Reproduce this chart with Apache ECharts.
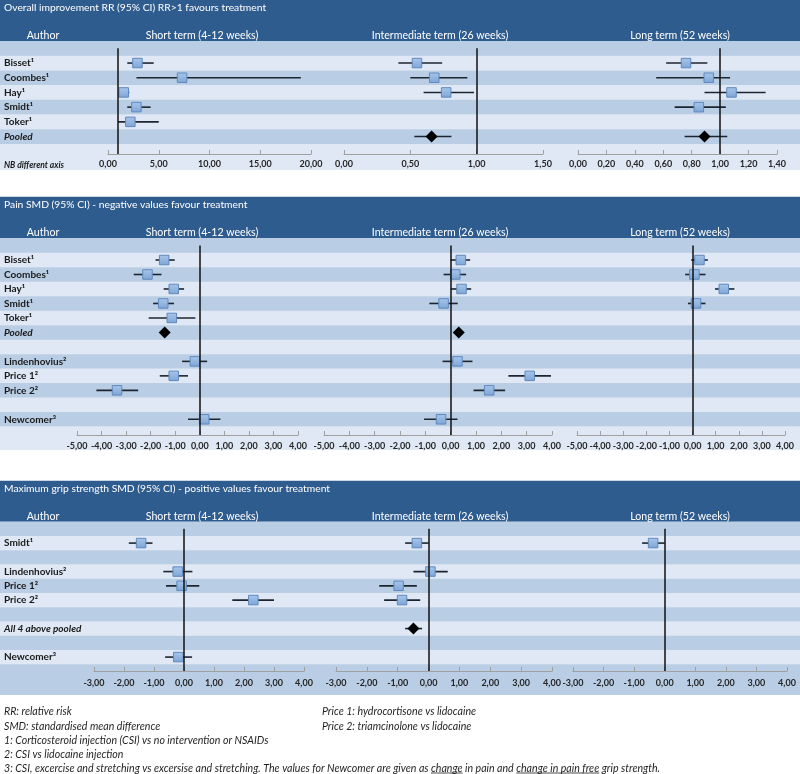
<!DOCTYPE html>
<html><head><meta charset="utf-8">
<script src="https://cdn.jsdelivr.net/npm/echarts@6/dist/echarts.min.js"></script>
<style>html,body{margin:0;padding:0;background:#fff}#c{width:800px;height:774px}</style>
</head><body><div id="c"></div>
<script>
// ---------------- DATA ----------------
const panelTitles = [
  'Overall improvement RR (95% CI) RR>1 favours treatment',
  'Pain SMD (95% CI) - negative values favour treatment',
  'Maximum grip strength SMD (95% CI) - positive values favour treatment'
];
const termHeaders = ['Short term (4-12 weeks)', 'Intermediate term (26 weeks)', 'Long term (52 weeks)'];

const rrRows = ['', 'Bisset¹', 'Coombes¹', 'Hay¹', 'Smidt¹', 'Toker¹', 'Pooled'];
const painRows = ['', 'Bisset¹', 'Coombes¹', 'Hay¹', 'Smidt¹', 'Toker¹', 'Pooled', '', 'Lindenhovius²', 'Price 1²', 'Price 2²', '', 'Newcomer³'];
const gripRows = ['', 'Smidt¹', '', 'Lindenhovius²', 'Price 1²', 'Price 2²', '', 'All 4 above pooled', '', 'Newcomer³'];

// [row, estimate, lower CI, upper CI]
const rrShort = [['Bisset¹', 2.9, 1.9, 4.5], ['Coombes¹', 7.3, 2.8, 19.0], ['Hay¹', 1.55, 1.2, 2.1], ['Smidt¹', 2.8, 1.9, 4.2], ['Toker¹', 2.2, 1.0, 5.0]];
const rrInter = [['Bisset¹', 0.55, 0.41, 0.74], ['Coombes¹', 0.68, 0.50, 0.93], ['Hay¹', 0.77, 0.60, 0.98], ['Pooled', 0.66, 0.53, 0.81]];
const rrLong = [['Bisset¹', 0.76, 0.62, 0.91], ['Coombes¹', 0.92, 0.55, 1.07], ['Hay¹', 1.08, 0.89, 1.32], ['Smidt¹', 0.85, 0.68, 1.04], ['Pooled', 0.89, 0.75, 1.05]];

const painShort = [['Bisset¹', -1.45, -1.8, -1.02], ['Coombes¹', -2.13, -2.69, -1.56], ['Hay¹', -1.06, -1.47, -0.64], ['Smidt¹', -1.49, -1.9, -1.05], ['Toker¹', -1.14, -2.08, -0.18], ['Pooled', -1.43, null, null], ['Lindenhovius²', -0.2, -0.72, 0.3], ['Price 1²', -1.06, -1.63, -0.48], ['Price 2²', -3.37, -4.21, -2.51], ['Newcomer³', 0.18, -0.48, 0.84]];
const painInter = [['Bisset¹', 0.40, 0.0, 0.77], ['Coombes¹', 0.18, -0.28, 0.61], ['Hay¹', 0.43, 0.0, 0.81], ['Smidt¹', -0.28, -0.84, 0.28], ['Pooled', 0.32, null, null], ['Lindenhovius²', 0.27, -0.32, 0.86], ['Price 1²', 3.12, 2.28, 3.96], ['Price 2²', 1.52, 0.9, 2.15], ['Newcomer³', -0.38, -1.05, 0.27]];
const painLong = [['Bisset¹', 0.30, -0.06, 0.66], ['Coombes¹', 0.08, -0.32, 0.56], ['Hay¹', 1.35, 0.97, 1.81], ['Smidt¹', 0.15, -0.2, 0.56]];

const gripShort = [['Smidt¹', -1.43, -1.84, -1.05], ['Lindenhovius²', -0.21, -0.69, 0.28], ['Price 1²', -0.08, -0.6, 0.51], ['Price 2²', 2.31, 1.61, 3.0], ['Newcomer³', -0.19, -0.63, 0.27]];
const gripInter = [['Smidt¹', -0.38, -0.76, 0.0], ['Lindenhovius²', 0.06, -0.49, 0.62], ['Price 1²', -0.97, -1.6, -0.38], ['Price 2²', -0.86, -1.44, -0.27], ['All 4 above pooled', -0.49, -0.76, -0.21]];
const gripLong = [['Smidt¹', -0.38, -0.74, 0.0]];

// axis ticks: [min, max, interval]
const rrTicks = [[0, 20, 5], [0, 1.5, 0.5], [0, 1.4, 0.2]];
const painTicks = [[-5, 4, 1], [-5, 4, 1], [-5, 4, 1]];
const gripTicks = [[-3, 4, 1], [-3, 4, 1], [-3, 4, 1]];
const refValues = [1, 0, 0];

const footLeft = [
  'RR: relative risk',
  'SMD: standardised mean difference',
  '1: Corticosteroid injection (CSI) vs no intervention or NSAIDs',
  '2: CSI vs lidocaine injection',
  '3: CSI, excercise and stretching vs excersise and stretching. The values for Newcomer are given as change in pain and change in pain free grip strength.'
];
const footRight = ['Price 1: hydrocortisone vs lidocaine', 'Price 2: triamcinolone vs lidocaine'];

// ---------------- LAYOUT ----------------
const FONT = 'Lato';
const DARK = '#2f5c8f', MED = '#b9cde5', LIGHT = '#dfe8f4';
const panels = [
  {rows: rrRows, data: [rrShort, rrInter, rrLong], ticks: rrTicks, top: 0, rowTop: 41, pitch: 14.7, axisY: 154, bottom: 170, labelMargin: 6,
   cols: [[108, 203], [344, 199], [578, 199]]},
  {rows: painRows, data: [painShort, painInter, painLong], ticks: painTicks, top: 196.7, rowTop: 238.3, pitch: 14.48, axisY: 435, bottom: 450, labelMargin: 7,
   cols: [[77, 221], [324, 228], [577, 208]]},
  {rows: gripRows, data: [gripShort, gripInter, gripLong], ticks: gripTicks, top: 480.7, rowTop: 521.7, pitch: 14.25, axisY: 671, bottom: 695, labelMargin: 8,
   cols: [[94, 210], [336, 216], [573, 214]]}
];
const termCenters = [43, 202, 440, 680];

const grids = [], xAxes = [], yAxes = [], series = [], graphics = [];
const fmt = v => (Math.round(v * 100) / 100).toFixed(2).replace('.', ',').replace('-0,00', '0,00');
const isPooled = s => /pooled/i.test(s);

panels.forEach((P, p) => {
  // header
  graphics.push({type: 'rect', z: -5, shape: {x: 0, y: P.top, width: 800, height: P.rowTop - P.top}, style: {fill: DARK}});
  graphics.push({type: 'text', z: 10, x: 4, y: P.top + 7.5, style: {text: panelTitles[p], fill: '#fff', fontFamily: FONT, fontSize: 10.3, verticalAlign: 'middle'}});
  ['Author'].concat(termHeaders).forEach((t, k) => {
    graphics.push({type: 'text', z: 10, x: termCenters[k], y: P.top + 36, style: {text: t, fill: '#fff', fontFamily: FONT, fontSize: 10.6, align: 'center', verticalAlign: 'middle'}});
  });
  // stripes
  const n = P.rows.length;
  for (let i = 0; i < n; i++) {
    graphics.push({type: 'rect', z: -5, shape: {x: 0, y: P.rowTop + i * P.pitch, width: 800, height: P.pitch + 0.3}, style: {fill: i % 2 === 0 ? MED : LIGHT}});
  }
  graphics.push({type: 'rect', z: -5, shape: {x: 0, y: P.rowTop + n * P.pitch, width: 800, height: P.bottom - (P.rowTop + n * P.pitch)}, style: {fill: n % 2 === 0 ? MED : LIGHT}});

  P.cols.forEach((col, c) => {
    const gi = grids.length;
    const gTop = P.rowTop + P.pitch / 2;
    const gH = P.axisY - gTop;
    grids.push({left: col[0], width: col[1], top: gTop, height: gH, containLabel: false, outerBoundsMode: 'none'});
    const t = P.ticks[c];
    xAxes.push({
      gridIndex: gi, type: 'value', min: t[0], max: t[1], interval: t[2], position: 'bottom',
      axisLine: {show: true, onZero: false, lineStyle: {color: '#a0a0a0', width: 1}},
      axisTick: {show: true, inside: true, length: 4, lineStyle: {color: '#a0a0a0'}},
      splitLine: {show: false},
      axisLabel: {fontFamily: FONT, fontSize: 9, fontWeight: 'bold', color: '#262626', margin: P.labelMargin, formatter: fmt}
    });
    yAxes.push({
      gridIndex: gi, type: 'value', inverse: true, min: 0, max: gH / P.pitch, interval: 1,
      axisLine: {show: false}, axisTick: {show: false}, splitLine: {show: false},
      axisLabel: c === 0 ? {
        show: true, align: 'left', margin: col[0] - 4,
        formatter: v => {
          const i = Math.round(v);
          if (Math.abs(v - i) > 1e-6) return '';
          const s = P.rows[i];
          if (!s) return '';
          return isPooled(s) ? '{p|' + s + '}' : '{n|' + s + '}';
        },
        rich: {
          n: {fontFamily: FONT, fontWeight: 'bold', fontSize: 10, color: '#1a1a1a'},
          p: {fontFamily: FONT, fontWeight: 'bold', fontStyle: 'italic', fontSize: 10, color: '#1a1a1a'}
        }
      } : {show: false}
    });
    const arr = P.data[c];
    const rowOf = name => P.rows.indexOf(name);
    series.push({
      type: 'custom', xAxisIndex: gi, yAxisIndex: gi, z: 3, silent: true, animation: false,
      encode: {x: [0, 1], y: 2},
      data: arr.filter(d => d[2] != null).map(d => [d[2], d[3], rowOf(d[0])]),
      renderItem: (params, api) => {
        const a = api.coord([api.value(0), api.value(2)]);
        const b = api.coord([api.value(1), api.value(2)]);
        return {type: 'line', shape: {x1: a[0], y1: a[1], x2: b[0], y2: b[1]}, style: {stroke: '#1c2631', lineWidth: 1.6}};
      }
    });
    series.push({
      type: 'scatter', xAxisIndex: gi, yAxisIndex: gi, z: 4, silent: true, animation: false,
      symbol: 'rect', symbolSize: 9.5,
      itemStyle: {color: new echarts.graphic.LinearGradient(0, 0, 0, 1, [{offset: 0, color: '#a8c6ea'}, {offset: 1, color: '#7ea5d6'}]), borderColor: '#5f89bf', borderWidth: 1, opacity: 1},
      data: arr.filter(d => !isPooled(d[0])).map(d => [d[1], rowOf(d[0])]),
      markLine: {
        silent: true, symbol: ['none', 'none'], animation: false, label: {show: false},
        lineStyle: {color: '#111', width: 1.5, type: 'solid'},
        data: [{xAxis: refValues[p]}]
      }
    });
    series.push({
      type: 'scatter', xAxisIndex: gi, yAxisIndex: gi, z: 5, silent: true, animation: false,
      symbol: 'diamond', symbolSize: [12, 12],
      itemStyle: {color: '#000', opacity: 1},
      data: arr.filter(d => isPooled(d[0])).map(d => [d[1], rowOf(d[0])])
    });
  });
});

graphics.push({type: 'text', z: 10, x: 4, y: 165, style: {text: 'NB different axis', fill: '#1a1a1a', fontFamily: FONT, fontSize: 8.5, fontWeight: 'bold', fontStyle: 'italic', verticalAlign: 'middle'}});

const FOOT_SIZE = 10.6;
const footY = [712, 726.5, 741, 755, 768.5];
footLeft.forEach((t, i) => {
  graphics.push({type: 'text', z: 10, x: 4, y: footY[i], style: {text: t, fill: '#1f1f1f', fontFamily: FONT, fontSize: FOOT_SIZE, fontStyle: 'italic', verticalAlign: 'middle'}});
});
footRight.forEach((t, i) => {
  graphics.push({type: 'text', z: 10, x: 322, y: footY[i], style: {text: t, fill: '#1f1f1f', fontFamily: FONT, fontSize: FOOT_SIZE, fontStyle: 'italic', verticalAlign: 'middle'}});
});
// underlines in footnote 3
(function () {
  const ctx = document.createElement('canvas').getContext('2d');
  ctx.font = 'italic ' + FOOT_SIZE + 'px ' + FONT;
  const s = footLeft[4];
  const i1 = s.indexOf('change');
  const i2 = s.indexOf('change', i1 + 6);
  const segs = [[i1, i1 + 'change'.length], [i2, i2 + 'change in pain free'.length]];
  segs.forEach(([a, b]) => {
    const x1 = 4 + ctx.measureText(s.slice(0, a)).width;
    const x2 = 4 + ctx.measureText(s.slice(0, b)).width;
    graphics.push({type: 'line', z: 10, shape: {x1, y1: footY[4] + 4.5, x2, y2: footY[4] + 4.5}, style: {stroke: '#1f1f1f', lineWidth: 0.8}});
  });
})();

const chart = echarts.init(document.getElementById('c'), null, {renderer: 'canvas'});
chart.setOption({
  animation: false,
  textStyle: {fontFamily: FONT},
  grid: grids, xAxis: xAxes, yAxis: yAxes, series: series,
  graphic: {elements: graphics}
});
</script>
</body></html>
